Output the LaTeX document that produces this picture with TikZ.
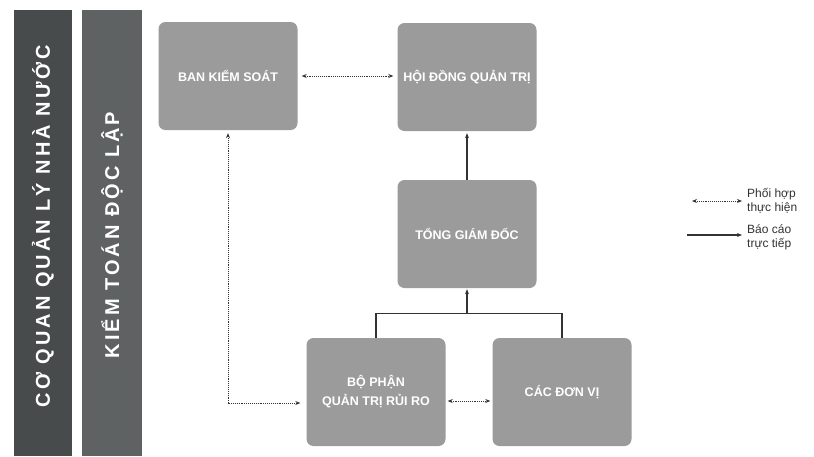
\documentclass[tikz,border=0pt]{standalone}
\usepackage{fontspec}
\setmainfont{Liberation Sans}
\usetikzlibrary{arrows.meta}
\definecolor{barA}{HTML}{474B4B}
\definecolor{barB}{HTML}{5E6262}
\definecolor{boxG}{HTML}{9B9B9B}
\definecolor{inkG}{HTML}{333333}
\tikzset{
  unitS/.style  ={fill=boxG, rounded corners=7pt, minimum width=139pt, minimum height=108pt,
                  text=white, align=center, inner sep=2pt, font=\fontsize{12.5}{19}\selectfont\bfseries},
  barS/.style   ={rotate=90, text=white, font=\fontsize{20}{20}\selectfont\bfseries\addfontfeature{LetterSpace=15}},
  coord/.style  ={inkG, densely dotted, line width=0.9pt, {Stealth[length=5pt,width=4pt]}-{Stealth[length=5pt,width=4pt]}},
  report/.style ={inkG, line width=1.1pt, -{Stealth[length=5pt,width=4pt]}},
  legendS/.style={text=inkG, align=left, inner sep=1pt, font=\fontsize{12}{14}\selectfont},
}
\begin{document}
\begin{tikzpicture}[x=1pt,y=-1pt]
  \useasboundingbox (0,0) rectangle (814,456);
  \fill[white] (0,0) rectangle (814,456);
  % outside bodies
  \fill[barA] (14,10) rectangle (72,456);
  \fill[barB] (82,10) rectangle (142,456);
  \node[barS] (stateB) at (43,226) {CƠ QUAN QUẢN LÝ NHÀ NƯỚC};
  \node[barS] (auditB) at (112,235) {KIỂM TOÁN ĐỘC LẬP};
  % units
  \node[unitS] (bks)  at (228,76)  {BAN KIỂM SOÁT};
  \node[unitS] (hdqt) at (467,77)  {HỘI ĐỒNG QUẢN TRỊ};
  \node[unitS] (tgd)  at (467,234) {TỔNG GIÁM ĐỐC};
  \node[unitS] (bpqt) at (376,392) {BỘ PHẬN\\QUẢN TRỊ RỦI RO};
  \node[unitS] (cdv)  at (562,392) {CÁC ĐƠN VỊ};
  % links
  \draw[coord, shorten <=4pt, shorten >=4pt] (bks.east) -- (bks.east -| hdqt.west);
  \draw[report, shorten >=2pt] (tgd.north) -- (hdqt.south);
  \coordinate (fork) at ([yshift=-25pt]tgd.south);
  \draw[inkG, line width=1.1pt] (bpqt.north) |- (fork) -| (cdv.north);
  \draw[report, shorten >=1pt] (fork) -- (tgd.south);
  \draw[coord, shorten <=3pt, shorten >=6pt] (bks.south) |- ([yshift=-11pt]bpqt.west);
  \draw[coord, shorten <=2pt, shorten >=2pt] ([yshift=-9pt]bpqt.east) -- ([yshift=-9pt]cdv.west);
  % legend
  \node[legendS, anchor=west] (lgCoord)  at (746,201) {Phối hợp\\thực hiện};
  \node[legendS, anchor=west] (lgReport) at (746,237) {Báo cáo\\trực tiếp};
  \draw[coord] ([xshift=-54pt]lgCoord.west) -- ([xshift=-4pt]lgCoord.west);
  \draw[report] ([xshift=-59pt]lgReport.west |- 0,235) -- ([xshift=-4pt]lgReport.west |- 0,235);
\end{tikzpicture}
\end{document}
